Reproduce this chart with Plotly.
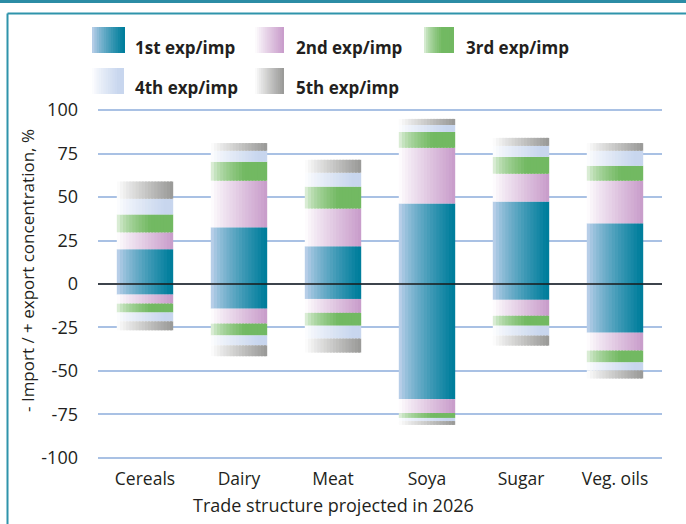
import numpy as np
import plotly.graph_objects as go

# ---------------- data ----------------
categories = ["Cereals", "Dairy", "Meat", "Soya", "Sugar", "Veg. oils"]
series_names = ["1st exp/imp", "2nd exp/imp", "3rd exp/imp", "4th exp/imp", "5th exp/imp"]

# export shares (positive side), %
exp_1st = [20.0, 32.6, 21.7, 46.3, 47.4, 34.9]
exp_2nd = [9.7, 26.8, 21.7, 32.0, 16.0, 24.5]
exp_3rd = [10.3, 10.9, 12.6, 9.1, 9.7, 8.6]
exp_4th = [9.0, 6.3, 8.0, 4.0, 6.3, 8.6]
exp_5th = [9.9, 4.4, 7.4, 3.5, 4.6, 4.4]

# import shares (negative side), %
imp_1st = [6.1, 14.2, 8.6, 66.2, 9.1, 28.0]
imp_2nd = [5.2, 8.6, 8.0, 8.0, 9.2, 10.3]
imp_3rd = [5.1, 6.8, 7.4, 2.8, 5.7, 6.8]
imp_4th = [5.1, 5.7, 7.4, 1.8, 5.7, 4.6]
imp_5th = [5.1, 6.2, 8.0, 2.2, 5.7, 4.6]

y_ticks = [100, 75, 50, 25, 0, -25, -50, -75, -100]

# ---------------- style ----------------
W, H = 686, 524
L, R, T, B = 98, 686 - 662, 109, 524 - 459
PW, PH = W - L - R, H - T - B

grad_start = [(197, 212, 238), (255, 255, 255), (240, 248, 238), (255, 255, 255), (255, 255, 255)]
grad_end = [(0, 126, 156), (200, 155, 202), (114, 185, 98), (200, 214, 238), (152, 152, 150)]
grad_gamma = [0.75, 0.9, 0.55, 0.8, 0.9]
grad_full = [0.95, 1.0, 0.6, 0.85, 1.0]

NSTRIP = 18
BAR_W = 0.6
FONT = "Open Sans, DejaVu Sans, sans-serif"
TXT = "#231f20"


def grad_color(i, t):
    tt = min(1.0, t / grad_full[i]) ** grad_gamma[i]
    a = np.array(grad_start[i], float)
    b = np.array(grad_end[i], float)
    c = a + (b - a) * tt
    return "rgb(%d,%d,%d)" % tuple(np.round(c).astype(int))


exp_all = np.array([exp_1st, exp_2nd, exp_3rd, exp_4th, exp_5th])
imp_all = np.array([imp_1st, imp_2nd, imp_3rd, imp_4th, imp_5th])
exp_base = np.vstack([np.zeros(len(categories)), np.cumsum(exp_all, axis=0)[:-1]])
imp_base = -np.vstack([np.zeros(len(categories)), np.cumsum(imp_all, axis=0)[:-1]])

fig = go.Figure()
step = BAR_W / NSTRIP
for i in range(len(series_names)):
    xs = categories + categories
    ys = list(exp_all[i]) + list(-imp_all[i])
    bs = list(exp_base[i]) + list(imp_base[i])
    for k in range(NSTRIP):
        t = (k + 0.5) / NSTRIP
        width = min(step * 1.6, BAR_W - k * step)
        fig.add_trace(go.Bar(
            x=xs, y=ys, base=bs,
            width=width, offset=-BAR_W / 2 + k * step,
            marker=dict(color=grad_color(i, t), line=dict(width=0)),
            name=series_names[i], showlegend=False, hoverinfo="skip",
        ))


def px2paper(x, y):
    return (x - L) / PW, (H - B - y) / PH


shapes = []
# zero line above bars
shapes.append(dict(type="line", xref="paper", yref="y", x0=0, x1=1, y0=0, y1=0,
                   line=dict(color="#1a1a1a", width=1.6), layer="above"))
# frame decorations
x0p, y0p = px2paper(0, 0)
x1p, y1p = px2paper(W, 3)
shapes.append(dict(type="rect", xref="paper", yref="paper", x0=x0p, x1=x1p, y0=y1p, y1=y0p,
                   fillcolor="#2b8ca5", line=dict(width=0), layer="above"))
fx, fy = px2paper(7.5, 13.5)
fx2, fy2 = px2paper(W + 5, H + 5)
shapes.append(dict(type="line", xref="paper", yref="paper", x0=fx, x1=px2paper(W, 0)[0], y0=fy, y1=fy,
                   line=dict(color="#2f94ab", width=2)))
shapes.append(dict(type="line", xref="paper", yref="paper", x0=fx, x1=fx, y0=fy, y1=fy2,
                   line=dict(color="#2f94ab", width=2)))

# legend
legend_pos = [(92, 27, 125, 133), (255, 27, 284, 294), (424, 27, 454, 464),
              (92, 68, 124, 133), (255, 68, 284, 294)]
annotations = []
for i, (bx0, by0, bx1, tx) in enumerate(legend_pos):
    by1 = by0 + 26
    n = 14
    sw = (bx1 - bx0) / n
    for k in range(n):
        xa = bx0 + k * sw
        xb = min(bx1, xa + sw * 1.5)
        p0 = px2paper(xa, by1)
        p1 = px2paper(xb, by0)
        shapes.append(dict(type="rect", xref="paper", yref="paper", x0=p0[0], x1=p1[0],
                           y0=p0[1], y1=p1[1], fillcolor=grad_color(i, (k + 0.5) / n),
                           line=dict(width=0)))
    tp = px2paper(tx, by0 + 20)
    annotations.append(dict(xref="paper", yref="paper", x=tp[0], y=tp[1], xanchor="left",
                            yanchor="middle", showarrow=False, text=series_names[i],
                            font=dict(family=FONT, size=17, color=TXT, weight="bold")))

# axis titles
yt = px2paper(27, 271)
annotations.append(dict(xref="paper", yref="paper", x=yt[0], y=yt[1], textangle=-90,
                        xanchor="center", yanchor="middle",
                        showarrow=False, text="- Import / + export concentration, %",
                        font=dict(family=FONT, size=17, color=TXT)))
xt = px2paper(333, 505)
annotations.append(dict(xref="paper", yref="paper", x=xt[0], y=xt[1],
                        xanchor="center", yanchor="middle",
                        showarrow=False, text="Trade structure projected in 2026",
                        font=dict(family=FONT, size=18, color=TXT)))

fig.update_layout(
    width=W, height=H,
    margin=dict(l=L, r=R, t=T, b=B, pad=0),
    paper_bgcolor="white", plot_bgcolor="white",
    barmode="overlay", bargap=0.4,
    showlegend=False,
    shapes=shapes, annotations=annotations,
    font=dict(family=FONT, size=17, color=TXT),
    xaxis=dict(type="category", categoryorder="array", categoryarray=categories,
               showgrid=False, zeroline=False, showline=False, ticks="",
               tickfont=dict(size=17.5, color=TXT), ticklabelstandoff=7),
    yaxis=dict(range=[-100.6, 100.6], tickvals=y_ticks, ticktext=[str(v) for v in y_ticks],
               showgrid=True, gridcolor="#a9c1e4", gridwidth=2, zeroline=False,
               showline=False, ticks="", tickfont=dict(size=18, color=TXT),
               ticklabelstandoff=19),
)

fig.write_html("out.html")
